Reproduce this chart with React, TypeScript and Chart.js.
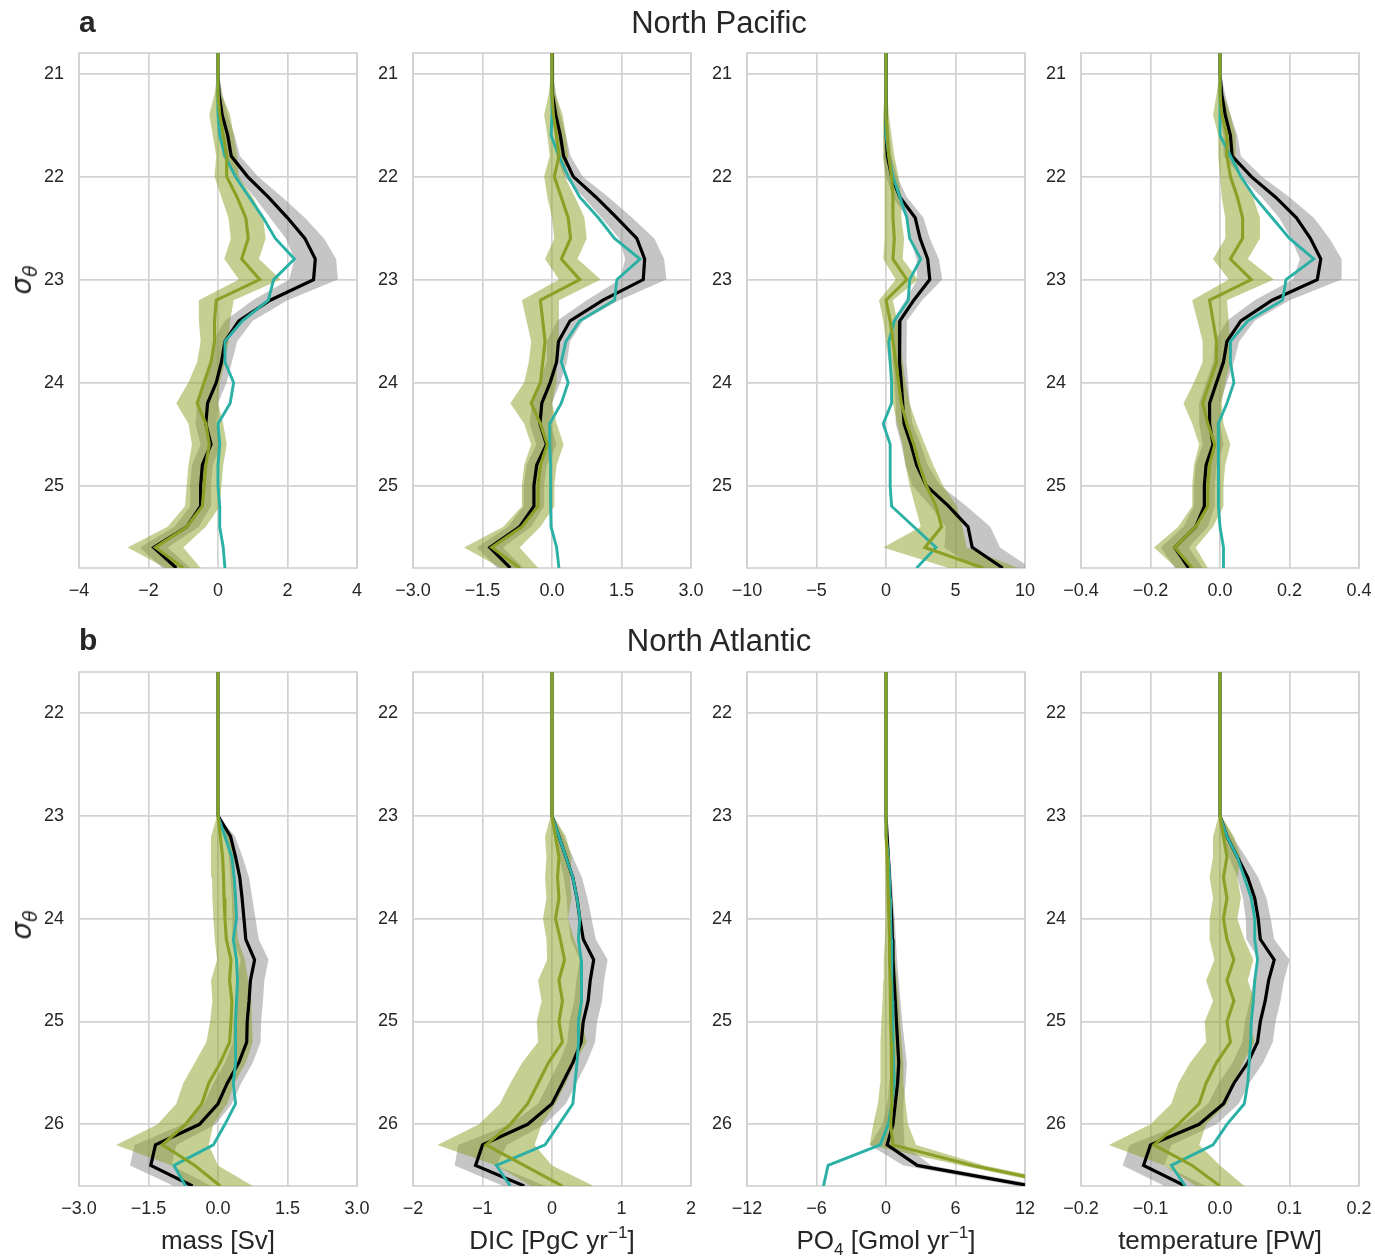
import React, { useEffect, useRef } from 'react';
import { Chart, registerables } from 'chart.js';

Chart.register(...registerables);

// ---------- sigma levels ----------
const sigmaNP = [20.8, 21.0, 21.2, 21.4, 21.6, 21.8, 22.0, 22.2, 22.4, 22.6, 22.8, 23.0, 23.2, 23.4, 23.6, 23.8, 24.0, 24.2, 24.4, 24.6, 24.8, 25.0, 25.2, 25.4, 25.6, 25.8];
const sigmaNA = [21.6, 21.8, 22.0, 22.2, 22.4, 22.6, 22.8, 23.0, 23.2, 23.4, 23.6, 23.8, 24.0, 24.2, 24.4, 24.6, 24.8, 25.0, 25.2, 25.4, 25.6, 25.8, 26.0, 26.2, 26.4, 26.6];

const yTicksNP = [21, 22, 23, 24, 25];
const yLabelsNP = ['21', '22', '23', '24', '25'];
const yTicksNA = [22, 23, 24, 25, 26];
const yLabelsNA = ['22', '23', '24', '25', '26'];

// ---------- North Pacific: mass ----------
const npMassBlack = [0, 0, 0.03, 0.12, 0.28, 0.38, 0.85, 1.45, 2.0, 2.5, 2.8, 2.75, 1.5, 0.6, 0.2, 0.1, -0.05, -0.3, -0.35, -0.2, -0.45, -0.5, -0.5, -0.9, -1.85, -1.2];
const npMassBlackSd = [0, 0.02, 0.1, 0.15, 0.2, 0.25, 0.3, 0.4, 0.5, 0.55, 0.6, 0.7, 0.5, 0.4, 0.35, 0.3, 0.3, 0.3, 0.3, 0.3, 0.3, 0.3, 0.3, 0.35, 0.4, 0.4];
const npMassTeal = [0, 0, 0, 0, 0.05, 0.2, 0.5, 0.9, 1.3, 1.65, 2.2, 1.6, 1.45, 0.7, 0.2, 0.2, 0.45, 0.35, 0.0, 0.05, 0.0, 0.0, 0.05, 0.05, 0.15, 0.2];
const npMassGreen = [0, 0, 0, 0.05, 0.15, 0.25, 0.25, 0.55, 0.8, 0.87, 0.68, 1.2, -0.05, -0.1, -0.1, -0.2, -0.4, -0.6, -0.35, -0.25, -0.35, -0.4, -0.45, -0.9, -1.8, -1.0];
const npMassGreenSd = [0, 0.02, 0.1, 0.3, 0.3, 0.3, 0.35, 0.45, 0.5, 0.5, 0.5, 0.6, 0.5, 0.45, 0.4, 0.4, 0.45, 0.6, 0.5, 0.5, 0.5, 0.5, 0.5, 0.55, 0.8, 0.5];

// ---------- North Pacific: DIC ----------
const npDicBlack = [0, 0, 0.02, 0.08, 0.18, 0.25, 0.46, 0.95, 1.4, 1.83, 2.0, 1.97, 1.1, 0.39, 0.14, 0.1, -0.04, -0.22, -0.26, -0.12, -0.33, -0.39, -0.39, -0.7, -1.34, -0.9];
const npDicBlackSd = [0, 0.02, 0.07, 0.1, 0.12, 0.15, 0.2, 0.27, 0.33, 0.38, 0.42, 0.5, 0.35, 0.28, 0.25, 0.22, 0.22, 0.22, 0.22, 0.22, 0.22, 0.22, 0.22, 0.25, 0.28, 0.28];
const npDicTeal = [0, 0, 0, 0, -0.02, 0.15, 0.35, 0.6, 1.0, 1.35, 1.9, 1.4, 1.35, 0.6, 0.3, 0.2, 0.35, 0.2, -0.05, -0.05, -0.03, -0.03, -0.03, -0.02, 0.1, 0.15];
const npDicGreen = [0, 0, 0, 0.03, 0.1, 0.15, 0.05, 0.2, 0.35, 0.4, 0.2, 0.6, -0.25, -0.2, -0.15, -0.2, -0.25, -0.45, -0.25, -0.1, -0.25, -0.3, -0.3, -0.65, -1.3, -0.7];
const npDicGreenSd = [0, 0.02, 0.07, 0.2, 0.2, 0.2, 0.22, 0.3, 0.35, 0.35, 0.35, 0.45, 0.4, 0.35, 0.3, 0.3, 0.35, 0.45, 0.35, 0.35, 0.35, 0.35, 0.35, 0.4, 0.6, 0.4];

// ---------- North Pacific: PO4 ----------
const npPo4Black = [0, 0, 0, 0, 0.05, 0.1, 0.4, 1.0, 2.1, 2.45, 3.0, 3.15, 2.0, 1.0, 0.95, 1.0, 1.1, 1.2, 1.3, 1.8, 2.2, 2.9, 4.5, 5.9, 6.2, 8.4];
const npPo4BlackSd = [0, 0, 0.1, 0.15, 0.2, 0.3, 0.4, 0.5, 0.6, 0.7, 0.8, 0.9, 0.6, 0.5, 0.5, 0.5, 0.5, 0.5, 0.6, 0.7, 0.8, 1.0, 1.3, 1.6, 2.0, 2.0];
const npPo4Teal = [0, 0, 0, 0, 0, 0.2, 0.5, 1.0, 1.5, 1.7, 2.5, 1.7, 1.6, 0.6, 0.2, 0.3, 0.4, 0.4, -0.2, 0.3, 0.3, 0.3, 0.4, 2.0, 3.6, 2.2];
const npPo4Green = [0, 0, 0, 0, 0.1, 0.2, 0.4, 0.5, 0.5, 0.6, 0.5, 1.5, 0.0, 0.3, 0.5, 0.7, 0.9, 1.1, 1.5, 2.0, 2.4, 2.9, 3.6, 4.0, 2.8, 7.0];
const npPo4GreenSd = [0, 0, 0.1, 0.2, 0.3, 0.4, 0.5, 0.6, 0.6, 0.7, 0.7, 0.8, 0.5, 0.5, 0.5, 0.5, 0.5, 0.6, 0.7, 0.8, 1.0, 1.2, 1.5, 1.5, 3.0, 2.5];

// ---------- North Pacific: temperature ----------
const npTempBlack = [0, 0, 0.005, 0.015, 0.03, 0.035, 0.09, 0.16, 0.22, 0.26, 0.29, 0.28, 0.15, 0.06, 0.02, 0.01, -0.01, -0.03, -0.03, -0.02, -0.04, -0.045, -0.045, -0.07, -0.13, -0.09];
const npTempBlackSd = [0, 0.002, 0.01, 0.015, 0.02, 0.025, 0.03, 0.04, 0.05, 0.055, 0.06, 0.07, 0.05, 0.04, 0.035, 0.03, 0.03, 0.03, 0.03, 0.03, 0.03, 0.03, 0.03, 0.035, 0.04, 0.04];
const npTempTeal = [0, 0, 0, 0, 0, 0.03, 0.06, 0.1, 0.15, 0.2, 0.27, 0.19, 0.18, 0.08, 0.03, 0.03, 0.04, 0.02, -0.005, -0.005, -0.005, -0.005, -0.003, 0, 0.01, 0.01];
const npTempGreen = [0, 0, 0, 0.005, 0.02, 0.02, 0.03, 0.05, 0.065, 0.065, 0.03, 0.09, -0.03, -0.02, -0.01, -0.01, -0.03, -0.05, -0.035, -0.015, -0.03, -0.035, -0.035, -0.07, -0.13, -0.08];
const npTempGreenSd = [0, 0.002, 0.01, 0.025, 0.025, 0.025, 0.03, 0.045, 0.05, 0.05, 0.05, 0.065, 0.05, 0.045, 0.04, 0.04, 0.045, 0.055, 0.045, 0.045, 0.045, 0.045, 0.045, 0.05, 0.06, 0.045];

// ---------- North Atlantic: mass ----------
const naMassBlack = [0, 0, 0, 0, 0, 0, 0, 0, 0.27, 0.38, 0.47, 0.52, 0.56, 0.6, 0.79, 0.7, 0.67, 0.63, 0.62, 0.45, 0.2, 0.0, -0.4, -1.35, -1.45, -0.55];
const naMassBlackSd = [0, 0, 0, 0, 0, 0, 0, 0.02, 0.1, 0.15, 0.2, 0.22, 0.25, 0.28, 0.3, 0.3, 0.3, 0.3, 0.3, 0.3, 0.3, 0.3, 0.35, 0.45, 0.45, 0.4];
const naMassTeal = [0, 0, 0, 0, 0, 0, 0, 0, 0.15, 0.3, 0.35, 0.38, 0.4, 0.33, 0.4, 0.42, 0.4, 0.38, 0.38, 0.38, 0.33, 0.38, 0.15, -0.1, -0.95, -0.7];
const naMassGreen = [0, 0, 0, 0, 0, 0, 0, 0, 0.05, 0.1, 0.12, 0.13, 0.15, 0.18, 0.28, 0.25, 0.3, 0.28, 0.25, 0.05, -0.2, -0.35, -0.7, -1.2, -0.5, 0.05];
const naMassGreenSd = [0, 0, 0, 0, 0, 0, 0, 0.02, 0.2, 0.25, 0.25, 0.25, 0.25, 0.25, 0.3, 0.4, 0.42, 0.45, 0.5, 0.55, 0.55, 0.55, 0.6, 1.0, 0.5, 0.7];

// ---------- North Atlantic: DIC ----------
const naDicBlack = [0, 0, 0, 0, 0, 0, 0, 0, 0.1, 0.2, 0.3, 0.36, 0.4, 0.45, 0.6, 0.55, 0.52, 0.45, 0.42, 0.3, 0.15, 0.0, -0.35, -1.0, -1.1, -0.4];
const naDicBlackSd = [0, 0, 0, 0, 0, 0, 0, 0.02, 0.07, 0.1, 0.13, 0.15, 0.17, 0.18, 0.2, 0.2, 0.2, 0.2, 0.2, 0.2, 0.2, 0.2, 0.25, 0.35, 0.3, 0.3];
const naDicTeal = [0, 0, 0, 0, 0, 0, 0, 0, 0.1, 0.2, 0.3, 0.36, 0.4, 0.38, 0.42, 0.43, 0.42, 0.38, 0.38, 0.36, 0.33, 0.3, 0.1, -0.1, -0.8, -0.6];
const naDicGreen = [0, 0, 0, 0, 0, 0, 0, 0, 0.05, 0.1, 0.08, 0.1, 0.05, 0.12, 0.18, 0.1, 0.15, 0.1, 0.15, -0.05, -0.2, -0.35, -0.6, -0.95, -0.4, 0.15];
const naDicGreenSd = [0, 0, 0, 0, 0, 0, 0, 0.02, 0.15, 0.18, 0.18, 0.18, 0.18, 0.2, 0.25, 0.3, 0.3, 0.32, 0.35, 0.38, 0.4, 0.4, 0.45, 0.7, 0.4, 0.45];

// ---------- North Atlantic: PO4 ----------
const naPo4Black = [0, 0, 0, 0, 0, 0, 0, 0, 0.1, 0.2, 0.3, 0.4, 0.5, 0.55, 0.6, 0.7, 0.8, 0.9, 1.0, 1.1, 1.0, 0.8, 0.6, 0.1, 2.7, 12.5];
const naPo4BlackSd = [0, 0, 0, 0, 0, 0, 0, 0, 0.1, 0.15, 0.2, 0.2, 0.25, 0.3, 0.35, 0.4, 0.45, 0.5, 0.6, 0.7, 0.7, 0.7, 0.9, 1.5, 1.2, 1.2];
const naPo4Teal = [0, 0, 0, 0, 0, 0, 0, 0, 0.05, 0.2, 0.3, 0.35, 0.4, 0.45, 0.5, 0.5, 0.55, 0.6, 0.6, 0.65, 0.7, 0.5, 0.2, -0.5, -5.0, -5.4];
const naPo4Green = [0, 0, 0, 0, 0, 0, 0, 0, 0.05, 0.1, 0.15, 0.2, 0.25, 0.3, 0.3, 0.35, 0.4, 0.4, 0.45, 0.5, 0.5, 0.5, 0.4, 0.6, 7.5, 16];
const naPo4GreenSd = [0, 0, 0, 0, 0, 0, 0, 0, 0.1, 0.15, 0.2, 0.25, 0.3, 0.4, 0.5, 0.6, 0.7, 0.8, 0.9, 1.0, 1.0, 1.2, 1.5, 2.0, 1.0, 1.0];

// ---------- North Atlantic: temperature ----------
const naTempBlack = [0, 0, 0, 0, 0, 0, 0, 0, 0.01, 0.025, 0.04, 0.05, 0.055, 0.058, 0.078, 0.07, 0.065, 0.058, 0.054, 0.04, 0.02, 0.005, -0.03, -0.1, -0.11, -0.05];
const naTempBlackSd = [0, 0, 0, 0, 0, 0, 0, 0.002, 0.008, 0.012, 0.015, 0.017, 0.018, 0.02, 0.022, 0.022, 0.022, 0.022, 0.022, 0.022, 0.022, 0.022, 0.025, 0.03, 0.03, 0.03];
const naTempTeal = [0, 0, 0, 0, 0, 0, 0, 0, 0.01, 0.025, 0.035, 0.045, 0.05, 0.05, 0.054, 0.05, 0.048, 0.045, 0.044, 0.042, 0.04, 0.035, 0.01, -0.01, -0.07, -0.05];
const naTempGreen = [0, 0, 0, 0, 0, 0, 0, 0, 0.005, 0.01, 0.005, 0.01, 0.005, 0.01, 0.02, 0.01, 0.02, 0.01, 0.015, -0.005, -0.02, -0.03, -0.06, -0.095, -0.04, 0.0];
const naTempGreenSd = [0, 0, 0, 0, 0, 0, 0, 0.002, 0.015, 0.02, 0.02, 0.02, 0.02, 0.025, 0.028, 0.03, 0.03, 0.032, 0.035, 0.038, 0.04, 0.04, 0.04, 0.065, 0.04, 0.035];

// ---------- x tick values / labels ----------
const xTicksNPMass = [-4, -2, 0, 2, 4];
const xLabelsNPMass = ['\u22124', '\u22122', '0', '2', '4'];
const xTicksNPDic = [-3, -1.5, 0, 1.5, 3];
const xLabelsNPDic = ['\u22123.0', '\u22121.5', '0.0', '1.5', '3.0'];
const xTicksNPPo4 = [-10, -5, 0, 5, 10];
const xLabelsNPPo4 = ['\u221210', '\u22125', '0', '5', '10'];
const xTicksNPTemp = [-0.4, -0.2, 0, 0.2, 0.4];
const xLabelsNPTemp = ['\u22120.4', '\u22120.2', '0.0', '0.2', '0.4'];
const xTicksNAMass = [-3, -1.5, 0, 1.5, 3];
const xLabelsNAMass = ['\u22123.0', '\u22121.5', '0.0', '1.5', '3.0'];
const xTicksNADic = [-2, -1, 0, 1, 2];
const xLabelsNADic = ['\u22122', '\u22121', '0', '1', '2'];
const xTicksNAPo4 = [-12, -6, 0, 6, 12];
const xLabelsNAPo4 = ['\u221212', '\u22126', '0', '6', '12'];
const xTicksNATemp = [-0.2, -0.1, 0, 0.1, 0.2];
const xLabelsNATemp = ['\u22120.2', '\u22120.1', '0.0', '0.1', '0.2'];

// ---------- styles ----------
const FONT = '"Liberation Sans", Arial, Helvetica, sans-serif';
const GRID = '#d2d2d2';
const GRID_W = 1.7;
const BLACK = '#000000';
const TEAL = '#2bb0a6';
const GREEN = '#8ba026';
const GREEN_BAND = 'rgba(139,160,38,0.5)';
const GRAY_BAND = 'rgba(140,140,140,0.5)';
const TEXT = '#262626';

const PLOT_LEFTS = [79, 413, 747, 1081];
const PLOT_W = 278;
const ROWS = [
  { top: 53, h: 515, yMin: 20.8, yMax: 25.8 },
  { top: 672, h: 514, yMin: 21.6, yMax: 26.6 },
];
const PAD_T = 32;
const PAD_R = 32;
const Y_AX_W = 50;
const X_AX_H = 40;

type PanelSpec = {
  row: number;
  col: number;
  sigma: number[];
  black: number[];
  blackSd: number[];
  teal: number[];
  green: number[];
  greenSd: number[];
  xTicks: number[];
  xLabels: string[];
  yTicks: number[];
  yLabels: string[];
};

const panels: PanelSpec[] = [
  { row: 0, col: 0, sigma: sigmaNP, black: npMassBlack, blackSd: npMassBlackSd, teal: npMassTeal, green: npMassGreen, greenSd: npMassGreenSd, xTicks: xTicksNPMass, xLabels: xLabelsNPMass, yTicks: yTicksNP, yLabels: yLabelsNP },
  { row: 0, col: 1, sigma: sigmaNP, black: npDicBlack, blackSd: npDicBlackSd, teal: npDicTeal, green: npDicGreen, greenSd: npDicGreenSd, xTicks: xTicksNPDic, xLabels: xLabelsNPDic, yTicks: yTicksNP, yLabels: yLabelsNP },
  { row: 0, col: 2, sigma: sigmaNP, black: npPo4Black, blackSd: npPo4BlackSd, teal: npPo4Teal, green: npPo4Green, greenSd: npPo4GreenSd, xTicks: xTicksNPPo4, xLabels: xLabelsNPPo4, yTicks: yTicksNP, yLabels: yLabelsNP },
  { row: 0, col: 3, sigma: sigmaNP, black: npTempBlack, blackSd: npTempBlackSd, teal: npTempTeal, green: npTempGreen, greenSd: npTempGreenSd, xTicks: xTicksNPTemp, xLabels: xLabelsNPTemp, yTicks: yTicksNP, yLabels: yLabelsNP },
  { row: 1, col: 0, sigma: sigmaNA, black: naMassBlack, blackSd: naMassBlackSd, teal: naMassTeal, green: naMassGreen, greenSd: naMassGreenSd, xTicks: xTicksNAMass, xLabels: xLabelsNAMass, yTicks: yTicksNA, yLabels: yLabelsNA },
  { row: 1, col: 1, sigma: sigmaNA, black: naDicBlack, blackSd: naDicBlackSd, teal: naDicTeal, green: naDicGreen, greenSd: naDicGreenSd, xTicks: xTicksNADic, xLabels: xLabelsNADic, yTicks: yTicksNA, yLabels: yLabelsNA },
  { row: 1, col: 2, sigma: sigmaNA, black: naPo4Black, blackSd: naPo4BlackSd, teal: naPo4Teal, green: naPo4Green, greenSd: naPo4GreenSd, xTicks: xTicksNAPo4, xLabels: xLabelsNAPo4, yTicks: yTicksNA, yLabels: yLabelsNA },
  { row: 1, col: 3, sigma: sigmaNA, black: naTempBlack, blackSd: naTempBlackSd, teal: naTempTeal, green: naTempGreen, greenSd: naTempGreenSd, xTicks: xTicksNATemp, xLabels: xLabelsNATemp, yTicks: yTicksNA, yLabels: yLabelsNA },
];

const framePlugin = {
  id: 'frame',
  beforeDatasetsDraw(chart: any) {
    const { ctx, chartArea: a } = chart;
    ctx.save();
    ctx.strokeStyle = GRID;
    ctx.lineWidth = GRID_W;
    ctx.strokeRect(a.left, a.top, a.right - a.left, a.bottom - a.top);
    ctx.restore();
  },
};

function Profile({ spec }: { spec: PanelSpec }) {
  const ref = useRef<HTMLCanvasElement>(null);
  const row = ROWS[spec.row];
  const W = Y_AX_W + PLOT_W + PAD_R;
  const H = PAD_T + row.h + X_AX_H;
  const left = PLOT_LEFTS[spec.col] - Y_AX_W;
  const top = row.top - PAD_T;

  useEffect(() => {
    const s = spec.sigma;
    const pts = (vals: number[]) => vals.map((v, i) => ({ x: v, y: s[i] }));
    const hi = (vals: number[], sd: number[]) => vals.map((v, i) => ({ x: v + sd[i], y: s[i] }));
    const lo = (vals: number[], sd: number[]) => vals.map((v, i) => ({ x: v - sd[i], y: s[i] }));
    const lineDs = (data: any[], color: string, w: number) => ({
      data, borderColor: color, borderWidth: w, pointRadius: 0, pointHoverRadius: 0, fill: false, tension: 0,
    });
    const edgeDs = (data: any[], fill: any, bg: string) => ({
      data, borderColor: 'rgba(0,0,0,0)', borderWidth: 0, pointRadius: 0, pointHoverRadius: 0, fill, backgroundColor: bg, tension: 0,
    });
    const gridOpts = { color: GRID, lineWidth: GRID_W, drawTicks: false };
    const tickFont = { family: FONT, size: 18 };

    const chart = new Chart(ref.current as HTMLCanvasElement, {
      type: 'line',
      data: {
        datasets: [
          lineDs(pts(spec.green), GREEN, 3.1),
          lineDs(pts(spec.teal), TEAL, 2.9),
          lineDs(pts(spec.black), BLACK, 3.2),
          edgeDs(hi(spec.green, spec.greenSd), '+1', GREEN_BAND),
          edgeDs(lo(spec.green, spec.greenSd), false, GREEN_BAND),
          edgeDs(hi(spec.black, spec.blackSd), '+1', GRAY_BAND),
          edgeDs(lo(spec.black, spec.blackSd), false, GRAY_BAND),
        ] as any,
      },
      options: {
        animation: false,
        responsive: false,
        maintainAspectRatio: false,
        indexAxis: 'y',
        events: [],
        layout: { padding: { top: PAD_T, right: PAD_R, left: 0, bottom: 0 } },
        plugins: {
          legend: { display: false },
          tooltip: { enabled: false },
          title: { display: false },
        },
        scales: {
          x: {
            type: 'linear',
            position: 'bottom',
            min: spec.xTicks[0],
            max: spec.xTicks[spec.xTicks.length - 1],
            afterBuildTicks: (sc: any) => { sc.ticks = spec.xTicks.map((v) => ({ value: v })); },
            afterFit: (sc: any) => { sc.height = X_AX_H; },
            grid: gridOpts,
            border: { display: false },
            ticks: {
              padding: 12,
              color: TEXT,
              font: tickFont,
              maxRotation: 0,
              autoSkip: false,
              callback: (_v: any, i: number) => spec.xLabels[i],
            },
          },
          y: {
            type: 'linear',
            position: 'left',
            reverse: true,
            min: row.yMin,
            max: row.yMax,
            afterBuildTicks: (sc: any) => { sc.ticks = spec.yTicks.map((v) => ({ value: v })); },
            afterFit: (sc: any) => { sc.width = Y_AX_W; },
            grid: gridOpts,
            border: { display: false },
            ticks: {
              padding: 15,
              color: TEXT,
              font: tickFont,
              autoSkip: false,
              callback: (_v: any, i: number) => spec.yLabels[i],
            },
          },
        },
      } as any,
      plugins: [framePlugin],
    });
    return () => chart.destroy();
  }, []);

  return (
    <canvas
      ref={ref}
      width={W}
      height={H}
      style={{ position: 'absolute', left, top, width: W, height: H }}
    />
  );
}

function Txt({ x, y, size, bold, children, center }: any) {
  return (
    <div
      style={{
        position: 'absolute',
        left: x,
        top: y,
        fontFamily: FONT,
        fontSize: size,
        fontWeight: bold ? 'bold' : 'normal',
        lineHeight: 1,
        color: TEXT,
        whiteSpace: 'nowrap',
        transform: center ? 'translateX(-50%)' : undefined,
      }}
    >
      {children}
    </div>
  );
}

function SigmaLabel({ cy }: { cy: number }) {
  return (
    <div
      style={{
        position: 'absolute',
        left: 22,
        top: cy,
        transform: 'translate(-50%, -50%) rotate(-90deg)',
        fontFamily: '"DejaVu Sans", sans-serif',
        fontStyle: 'italic',
        fontSize: 28,
        lineHeight: 1,
        color: TEXT,
        whiteSpace: 'nowrap',
      }}
    >
      σ<span style={{ fontSize: 19, position: 'relative', top: 6 }}>θ</span>
    </div>
  );
}

const supStyle: any = { fontSize: 17, position: 'relative', top: -11 };
const subStyle: any = { fontSize: 17, position: 'relative', top: 6 };

export default function App() {
  const centers = PLOT_LEFTS.map((l) => l + PLOT_W / 2);
  return (
    <div style={{ position: 'absolute', left: 0, top: 0, width: 1375, height: 1258, background: '#fff', overflow: 'hidden' }}>
      {panels.map((p, i) => <Profile key={i} spec={p} />)}
      <Txt x={79} y={7} size={30} bold>a</Txt>
      <Txt x={719} y={7} size={31} center>North Pacific</Txt>
      <Txt x={79} y={625} size={30} bold>b</Txt>
      <Txt x={719} y={625} size={31} center>North Atlantic</Txt>
      <SigmaLabel cy={280} />
      <SigmaLabel cy={925} />
      <Txt x={centers[0]} y={1227} size={26} center>mass [Sv]</Txt>
      <Txt x={centers[1]} y={1227} size={26} center>DIC [PgC yr<span style={supStyle}>−1</span>]</Txt>
      <Txt x={centers[2]} y={1227} size={26} center>PO<span style={subStyle}>4</span> [Gmol yr<span style={supStyle}>−1</span>]</Txt>
      <Txt x={centers[3]} y={1227} size={26} center>temperature [PW]</Txt>
    </div>
  );
}
